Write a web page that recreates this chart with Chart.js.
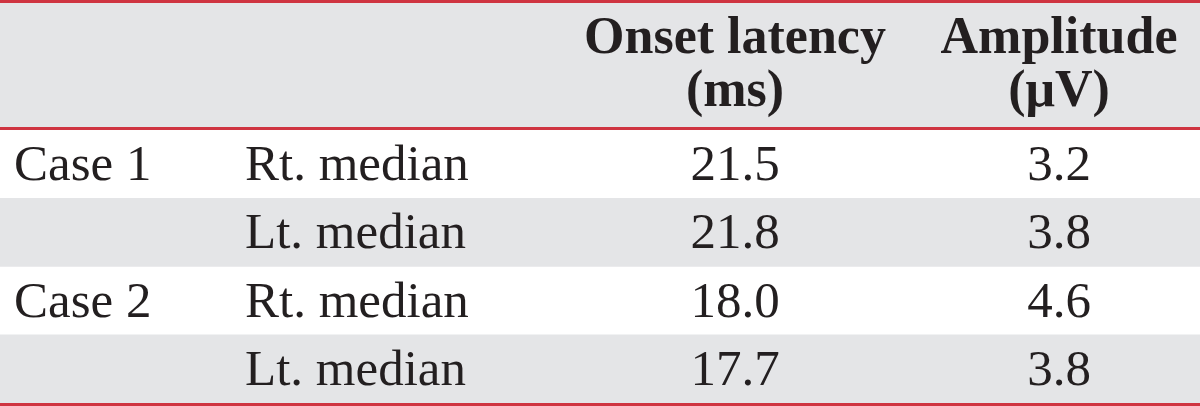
<!DOCTYPE html>
<html>
<head>
<meta charset="utf-8">
<script src="https://cdn.jsdelivr.net/npm/chart.js@4/dist/chart.umd.min.js"></script>
<style>
  html, body { margin: 0; padding: 0; background: #ffffff; }
  #wrap { width: 1200px; height: 406px; position: relative; }
</style>
</head>
<body>
<div id="wrap"><canvas id="table"></canvas></div>
<script>
// table data
const headerLines = [['Onset latency', '(ms)'], ['Amplitude', '(\u03bcV)']];
const cases = ['Case 1', '', 'Case 2', ''];
const nerves = ['Rt. median', 'Lt. median', 'Rt. median', 'Lt. median'];
const onsetLatency = ['21.5', '21.8', '18.0', '17.7'];
const amplitude = ['3.2', '3.8', '4.6', '3.8'];

// look
const RED = '#cf3441';
const SHADE = '#e4e5e7';
const INK = '#231f20';
const FONT = '"Liberation Serif", "Times New Roman", serif';
const TABLE_WIDTH = 1200;
// column anchors in table units, with alignment
const colX = [14, 245, 735, 1059];
const colAlign = ['left', 'left', 'center', 'center'];

const rowKeys = nerves.map((_, i) => 'row' + i);

const tablePlugin = {
    id: 'tableText',
    beforeDatasetsDraw(chart) {
        const ctx = chart.ctx;
        const area = chart.chartArea;
        ctx.save();
        // header band
        ctx.fillStyle = SHADE;
        ctx.fillRect(0, 3, chart.width, area.top - 6);
        ctx.restore();
    },
    afterDatasetsDraw(chart) {
        const ctx = chart.ctx;
        const area = chart.chartArea;
        const x = chart.scales.x;
        const y = chart.scales.y;
        ctx.save();

        // rules
        ctx.fillStyle = RED;
        ctx.fillRect(0, 0, chart.width, 3);
        ctx.fillRect(0, area.top - 3, chart.width, 3);
        ctx.fillRect(0, area.bottom, chart.width, 3);

        ctx.fillStyle = INK;
        ctx.textBaseline = 'alphabetic';

        // header
        ctx.font = 'bold 52px ' + FONT;
        ctx.textAlign = 'center';
        headerLines.forEach((lines, j) => {
            const px = x.getPixelForValue(colX[j + 2]);
            ctx.fillText(lines[0], px, 53);
            ctx.fillText(lines[1], px, 106);
        });

        // body
        ctx.font = '51px ' + FONT;
        const cols = [cases, nerves, onsetLatency, amplitude];
        rowKeys.forEach((_, i) => {
            const py = y.getPixelForValue(i) + 16;
            cols.forEach((col, c) => {
                ctx.textAlign = colAlign[c];
                ctx.fillText(col[i], x.getPixelForValue(colX[c]), py);
            });
        });
        ctx.restore();
    }
};

new Chart(document.getElementById('table').getContext('2d'), {
    type: 'bar',
    data: {
        labels: rowKeys,
        datasets: [{
            label: 'shade',
            data: rowKeys.map((_, i) => (i % 2 === 1 ? [0, TABLE_WIDTH] : null)),
            backgroundColor: SHADE,
            borderWidth: 0,
            barPercentage: 1,
            categoryPercentage: 1
        }]
    },
    options: {
        indexAxis: 'y',
        responsive: true,
        maintainAspectRatio: false,
        animation: false,
        layout: { padding: { top: 130, bottom: 3, left: 0, right: 0 } },
        scales: {
            x: { type: 'linear', min: 0, max: TABLE_WIDTH, display: false },
            y: { type: 'category', display: false, offset: true, grid: { offset: true } }
        },
        plugins: {
            legend: { display: false },
            tooltip: { enabled: false }
        }
    },
    plugins: [tablePlugin]
});
</script>
</body>
</html>
